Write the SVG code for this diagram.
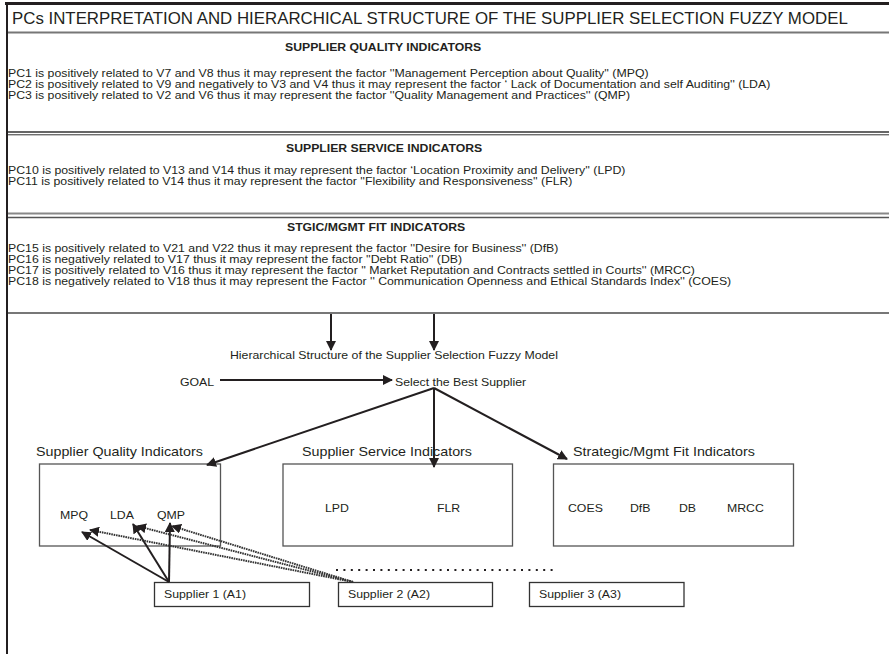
<svg xmlns="http://www.w3.org/2000/svg" width="889" height="654" viewBox="0 0 889 654">
<defs>
<style>
text{font-family:"Liberation Sans",Arial,sans-serif;fill:#231f20}
.t{font-size:16.85px}
.h{font-size:10.2px;font-weight:bold}
.b{font-size:10.7px}
.l{font-size:13px}
.box{fill:none;stroke:#555;stroke-width:1.3}
.sbox{fill:#fff;stroke:#333;stroke-width:1.3}
.c{stroke:#231f20;stroke-width:2;fill:none}
.d{stroke:#333;stroke-width:2;fill:none;stroke-dasharray:1.6 0.8}
</style>
<marker id="ah" viewBox="0 0 10 10" refX="9" refY="5" markerWidth="5" markerHeight="5" orient="auto" markerUnits="strokeWidth"><path d="M0,0 L10,5 L0,10 z" fill="#231f20"/></marker>
</defs>
<rect width="889" height="654" fill="#fff"/>
<g id="frame">
<line x1="5" y1="3.5" x2="889" y2="3.5" stroke="#231f20" stroke-width="3"/>
<line x1="7" y1="2" x2="7" y2="654" stroke="#231f20" stroke-width="2"/>
<line x1="8" y1="32.5" x2="889" y2="32.5" stroke="#777" stroke-width="2"/>
<line x1="8" y1="132" x2="889" y2="132" stroke="#333" stroke-width="1.5"/>
<line x1="8" y1="134.8" x2="889" y2="134.8" stroke="#333" stroke-width="1"/>
<line x1="8" y1="213.5" x2="889" y2="213.5" stroke="#888" stroke-width="2"/>
<line x1="8" y1="217.5" x2="889" y2="217.5" stroke="#555" stroke-width="1.5"/>
<line x1="8" y1="313" x2="889" y2="313" stroke="#777" stroke-width="2"/>
</g>
<g id="title"><text class="t" x="12" y="24">PCs INTERPRETATION AND HIERARCHICAL STRUCTURE OF THE SUPPLIER SELECTION FUZZY MODEL</text></g>
<g id="quality-section">
<text class="h" transform="translate(285 51) scale(1.2 1)">SUPPLIER QUALITY INDICATORS</text>
<text class="b" transform="translate(8 77) scale(1.15 1)">PC1 is positively related to V7 and V8 thus it may represent the factor ''Management Perception about Quality'' (MPQ)</text>
<text class="b" transform="translate(8 88) scale(1.15 1)">PC2 is positively related to V9 and negatively to V3 and V4 thus it may represent the factor ‘ Lack of Documentation and self Auditing'' (LDA)</text>
<text class="b" transform="translate(8 99) scale(1.15 1)">PC3 is positively related to  V2 and V6 thus it may represent the factor ''Quality Management and Practices'' (QMP)</text>
</g>
<g id="service-section">
<text class="h" transform="translate(286 152) scale(1.2 1)">SUPPLIER SERVICE INDICATORS</text>
<text class="b" transform="translate(8 174) scale(1.15 1)">PC10 is positively related to V13 and V14 thus it may represent the factor ‘Location Proximity and Delivery'' (LPD)</text>
<text class="b" transform="translate(8 185) scale(1.15 1)">PC11 is positively related to V14 thus it may represent the factor ''Flexibility and Responsiveness'' (FLR)</text>
</g>
<g id="fit-section">
<text class="h" transform="translate(287 230.5) scale(1.2 1)">STGIC/MGMT FIT INDICATORS</text>
<text class="b" transform="translate(8 251.5) scale(1.15 1)">PC15 is positively related to V21 and V22 thus it may represent the factor ''Desire for Business'' (DfB)</text>
<text class="b" transform="translate(8 262.5) scale(1.15 1)">PC16 is negatively related to V17 thus it may represent the factor ''Debt Ratio'' (DB)</text>
<text class="b" transform="translate(8 273.5) scale(1.15 1)">PC17 is positively related to V16 thus it may represent the factor '' Market Reputation and Contracts settled in Courts'' (MRCC)</text>
<text class="b" transform="translate(8 284.5) scale(1.15 1)">PC18 is negatively related to V18 thus it may represent the Factor '' Communication Openness and Ethical Standards Index'' (COES)</text>
</g>
<g id="hier-title"><text class="b" transform="translate(230 359) scale(1.15 1)">Hierarchical Structure of the Supplier Selection Fuzzy Model</text></g>
<g id="goal"><text class="b" transform="translate(180 386) scale(1.15 1)">GOAL</text></g>
<g id="best"><text class="b" transform="translate(395 386) scale(1.15 1)">Select the Best Supplier</text></g>
<g id="sqi">
<text class="l" transform="translate(36 456) scale(1.1 1)">Supplier Quality Indicators</text>
<rect class="box" x="39.5" y="464" width="181" height="82"/>
<text class="b" transform="translate(60 519) scale(1.15 1)">MPQ</text>
<text class="b" transform="translate(110 519) scale(1.15 1)">LDA</text>
<text class="b" transform="translate(157 519) scale(1.15 1)">QMP</text>
</g>
<g id="ssi">
<text class="l" transform="translate(302 456) scale(1.1 1)">Supplier Service Indicators</text>
<rect class="box" x="283" y="464" width="229.5" height="82"/>
<text class="b" transform="translate(325 512) scale(1.15 1)">LPD</text>
<text class="b" transform="translate(437 512) scale(1.15 1)">FLR</text>
</g>
<g id="smfi">
<text class="l" transform="translate(573 456) scale(1.1 1)">Strategic/Mgmt Fit Indicators</text>
<rect class="box" x="553.5" y="464" width="240" height="82"/>
<text class="b" transform="translate(568 512) scale(1.15 1)">COES</text>
<text class="b" transform="translate(630 512) scale(1.15 1)">DfB</text>
<text class="b" transform="translate(679 512) scale(1.15 1)">DB</text>
<text class="b" transform="translate(727 512) scale(1.15 1)">MRCC</text>
</g>
<g id="supplier1">
<rect class="sbox" x="154.5" y="582.5" width="155" height="24"/>
<text class="b" transform="translate(164 598) scale(1.15 1)">Supplier 1 (A1)</text>
</g>
<g id="supplier2">
<rect class="sbox" x="338.5" y="582.5" width="154" height="24"/>
<text class="b" transform="translate(348 598) scale(1.15 1)">Supplier 2 (A2)</text>
</g>
<g id="supplier3">
<rect class="sbox" x="529.5" y="582.5" width="154.5" height="24"/>
<text class="b" transform="translate(539 598) scale(1.15 1)">Supplier 3 (A3)</text>
</g>
<g id="connectors">
<line class="c" x1="331" y1="314" x2="331" y2="350" marker-end="url(#ah)"/>
<line class="c" x1="434" y1="314" x2="434" y2="350" marker-end="url(#ah)"/>
<line class="c" x1="220" y1="380" x2="392" y2="380" marker-end="url(#ah)"/>
<line class="c" x1="434" y1="388" x2="207" y2="465" marker-end="url(#ah)"/>
<line class="c" x1="434" y1="388" x2="434" y2="467" marker-end="url(#ah)"/>
<line class="c" x1="434" y1="388" x2="567" y2="459" marker-end="url(#ah)"/>
<line class="c" x1="169" y1="582" x2="82" y2="532" marker-end="url(#ah)"/>
<line class="c" x1="169" y1="582" x2="133" y2="524" marker-end="url(#ah)"/>
<line class="c" x1="169" y1="582" x2="170" y2="523" marker-end="url(#ah)"/>
<line class="d" x1="353" y1="582" x2="90" y2="530" marker-end="url(#ah)"/>
<line class="d" x1="353" y1="582" x2="137" y2="526" marker-end="url(#ah)"/>
<line class="d" x1="353" y1="582" x2="172" y2="526" marker-end="url(#ah)"/>
<line x1="336" y1="570" x2="558" y2="570" stroke="#231f20" stroke-width="2" stroke-dasharray="2 5.4"/>
</g>
</svg>
